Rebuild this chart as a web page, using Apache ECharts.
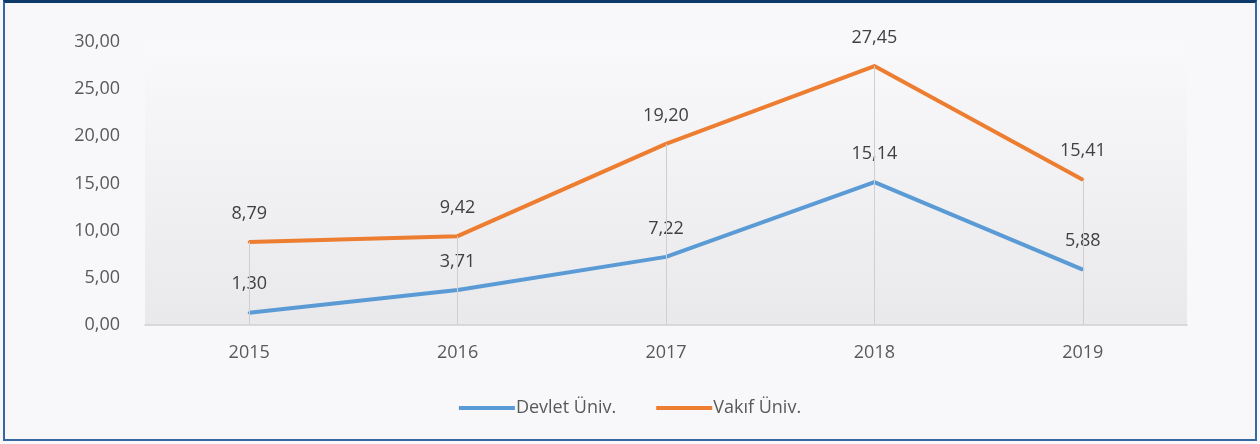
<!DOCTYPE html>
<html>
<head>
<meta charset="utf-8">
<script src="https://cdn.jsdelivr.net/npm/echarts@6/dist/echarts.min.js"></script>
<style>
  html, body { margin: 0; padding: 0; background: #f8f8fa; }
  #wrap { position: relative; width: 1260px; height: 444px; }
  #chart { width: 1260px; height: 444px; }
  .frame { position: absolute; left: 3px; top: 0; width: 1250px; height: 436px;
           border: 2px solid #3767a0; border-top: 3px solid #0e3a6a; pointer-events: none; }
</style>
</head>
<body>
<div id="wrap">
  <div id="chart"></div>
  <div class="frame"></div>
</div>
<script>
const years = ['2015', '2016', '2017', '2018', '2019']
const devlet = [1.30, 3.71, 7.22, 15.14, 5.88]
const vakif = [8.79, 9.42, 19.20, 27.45, 15.41]
const seriesNames = ['Devlet Üniv.', 'Vakıf Üniv.']

const fmt = v => Number(v).toFixed(2).replace('.', ',')
const FONT = '"Open Sans", "Noto Sans", sans-serif'

// drop lines from the highest point down to the axis
const dropLines = years.map((y, i) => [
  { coord: [y, 0] },
  { coord: [y, Math.max(devlet[i], vakif[i])] }
])

const labelOpt = {
  show: true, position: 'top', distance: 18,
  color: '#404040', fontSize: 18, formatter: p => fmt(p.value)
}

const chart = echarts.init(document.getElementById('chart'))
chart.setOption({
  backgroundColor: '#f8f8fa',
  animation: false,
  textStyle: { fontFamily: FONT },
  grid: {
    left: 145, right: 73, top: 42, bottom: 119,
    show: true, borderWidth: 0,
    backgroundColor: new echarts.graphic.LinearGradient(0, 0, 0, 1, [
      { offset: 0, color: '#f9f9fb' },
      { offset: 1, color: '#e9e9eb' }
    ])
  },
  legend: {
    bottom: 22, left: 'center',
    itemWidth: 56, itemHeight: 4, itemGap: 40,
    textStyle: { fontSize: 18, color: '#595959', fontFamily: FONT, padding: [0, 0, 0, -4] },
    data: seriesNames.map(n => ({ name: n, icon: 'rect' }))
  },
  xAxis: {
    type: 'category',
    data: years,
    boundaryGap: true,
    axisLine: { lineStyle: { color: '#d0d0d0', width: 1.5 } },
    axisTick: { show: false },
    axisLabel: { color: '#595959', fontSize: 18, margin: 19 },
    splitLine: { show: false }
  },
  yAxis: {
    type: 'value',
    min: 0, max: 30, interval: 5,
    axisLine: { show: false },
    axisTick: { show: false },
    splitLine: { show: false },
    axisLabel: { color: '#595959', fontSize: 18, margin: 25, formatter: fmt }
  },
  series: [
    {
      name: seriesNames[0],
      type: 'line',
      data: devlet,
      symbol: 'circle', symbolSize: 3,
      lineStyle: { color: '#5b9bd5', width: 4 },
      itemStyle: { color: '#5b9bd5' },
      label: labelOpt,
      markLine: {
        silent: true, symbol: 'none', label: { show: false },
        lineStyle: { color: '#cfcfcf', width: 1, type: 'solid' },
        data: dropLines
      },
      z: 3
    },
    {
      name: seriesNames[1],
      type: 'line',
      data: vakif,
      symbol: 'circle', symbolSize: 3,
      lineStyle: { color: '#ed7d31', width: 4 },
      itemStyle: { color: '#ed7d31' },
      label: labelOpt,
      z: 4
    }
  ]
})
</script>
</body>
</html>
